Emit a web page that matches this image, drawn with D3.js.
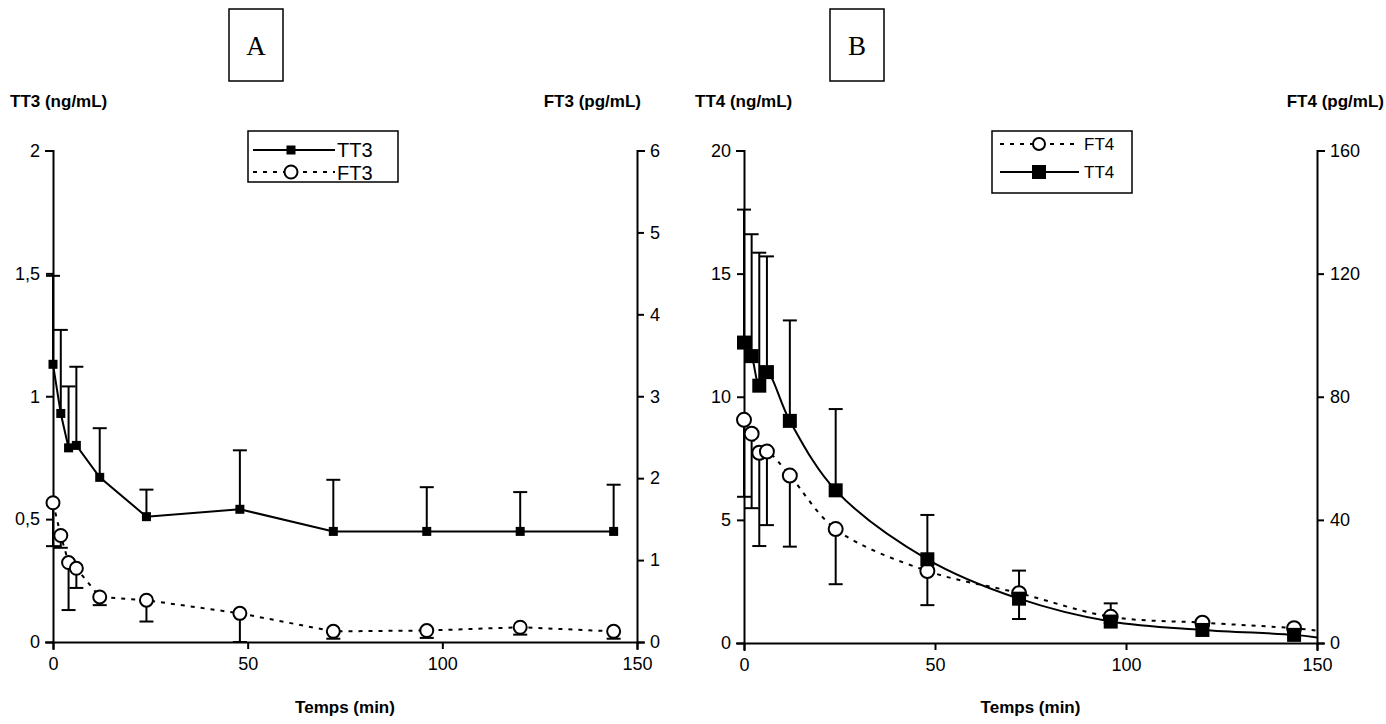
<!DOCTYPE html>
<html><head><meta charset="utf-8">
<script src="https://cdn.jsdelivr.net/npm/d3@7"></script>
<style>body{margin:0;background:#fff}</style></head>
<body><svg id="c" width="1386" height="724"></svg>
<script>
// ---- data ----
const times = [0, 2, 4, 6, 12, 24, 48, 72, 96, 120, 144];
const tt3 = [1.13, 0.93, 0.79, 0.80, 0.67, 0.51, 0.54, 0.45, 0.45, 0.45, 0.45];
const tt3Upper = [1.49, 1.27, 1.04, 1.12, 0.87, 0.62, 0.78, 0.66, 0.63, 0.61, 0.64];
const ft3 = [1.70, 1.30, 0.97, 0.90, 0.55, 0.51, 0.35, 0.13, 0.14, 0.18, 0.13];
const ft3Lower = [1.17, 1.15, 0.39, 0.66, 0.45, 0.25, 0.0, 0.04, 0.05, 0.09, 0.04];
const tt4 = [12.2, 11.65, 10.45, 11.0, 9.02, 6.2, 3.4, 1.8, 0.87, 0.53, 0.33];
const tt4Upper = [17.6, 16.6, 15.85, 15.7, 13.1, 9.5, 5.2, 2.94, 1.61, 0.7, 0.45];
const ft4 = [72.5, 68, 61.8, 62.2, 54.4, 37, 23.4, 16.2, 8.5, 6.6, 4.8];
const ft4Lower = [47.5, 43.8, 31.5, 38.3, 31.3, 19.1, 12.3, 7.8, 6.5, 5.5, 4.0];
const trendEndTime = 150;
const tt4End = 0.22;
const ft4End = 4.0;
const xTicks = [0, 50, 100, 150];
const tt3Ticks = [0, 0.5, 1, 1.5, 2];
const ft3Ticks = [0, 1, 2, 3, 4, 5, 6];
const tt4Ticks = [0, 5, 10, 15, 20];
const ft4Ticks = [0, 40, 80, 120, 160];

const svg = d3.select("#c");
const loc = d3.formatLocale({decimal: ",", thousands: " ", grouping: [3], currency: ["", ""]});
const fmt = v => loc.format("")(v);
const SANS = "Liberation Sans, Arial, sans-serif";

function panel(o) {
  const x = d3.scaleLinear().domain([0, 150]).range([o.x0, o.x1]);
  const yL = d3.scaleLinear().domain(o.lDomain).range([o.yb, o.yt]);
  const yR = d3.scaleLinear().domain(o.rDomain).range([o.yb, o.yt]);
  const g = svg.append("g");

  const styleAxis = (sel) => {
    sel.selectAll("path,line").attr("stroke", "#000").attr("stroke-width", 2);
    sel.selectAll("text").attr("fill", "#000").style("font-family", SANS).style("font-size", "18px");
    sel.select(".domain").attr("stroke-linecap", "square");
  };
  g.append("g").attr("transform", `translate(0,${o.yb})`)
    .call(d3.axisBottom(x).tickValues(xTicks).tickSizeOuter(0).tickSize(7).tickPadding(8).tickFormat(fmt))
    .call(styleAxis);
  g.append("g").attr("transform", `translate(${o.x0},0)`)
    .call(d3.axisLeft(yL).tickValues(o.lTicks).tickSizeOuter(0).tickSize(7).tickPadding(6).tickFormat(fmt))
    .call(styleAxis);
  g.append("g").attr("transform", `translate(${o.x1},0)`)
    .call(d3.axisRight(yR).tickValues(o.rTicks).tickSizeOuter(0).tickSize(7).tickPadding(6).tickFormat(fmt))
    .call(styleAxis);

  const t = (txt, px, py, anchor) => {
    g.append("text").attr("x", px).attr("y", py).attr("text-anchor", anchor).text(txt)
      .style("font-family", SANS).style("font-size", "17px").style("font-weight", "bold");
  };
  t(o.lTitle, o.lTitleX, 107, "start");
  t(o.rTitle, o.rTitleX, 107, "end");
  t("Temps (min)", (o.x0 + o.x1) / 2, 713, "middle");

  // letter box
  g.append("rect").attr("x", o.boxX).attr("y", 9).attr("width", 54).attr("height", 72)
    .attr("fill", "none").attr("stroke", "#000").attr("stroke-width", 1.5);
  g.append("text").attr("x", o.boxX + 27).attr("y", 55).attr("text-anchor", "middle")
    .style("font-family", "Liberation Serif, Times New Roman, serif").style("font-size", "27px").text(o.letter);

  return {g, x, yL, yR};
}

function errBars(g, x, y, vals, ends, cap) {
  const gg = g.append("g").attr("stroke", "#000").attr("stroke-width", 2);
  times.forEach((tm, i) => {
    gg.append("line").attr("x1", x(tm)).attr("x2", x(tm)).attr("y1", y(vals[i])).attr("y2", y(ends[i]));
    gg.append("line").attr("x1", x(tm) - cap).attr("x2", x(tm) + cap).attr("y1", y(ends[i])).attr("y2", y(ends[i]));
  });
}

// ---- Panel A ----
const A = panel({x0: 53, x1: 637, yt: 150.5, yb: 642, lDomain: [0, 2], rDomain: [0, 6],
  lTicks: tt3Ticks, rTicks: ft3Ticks, lTitle: "TT3 (ng/mL)", rTitle: "FT3 (pg/mL)",
  lTitleX: 10, rTitleX: 641, boxX: 229, letter: "A"});
errBars(A.g, A.x, A.yL, tt3, tt3Upper, 7);
errBars(A.g, A.x, A.yR, ft3, ft3Lower, 7);
const lineA1 = d3.line().x((d, i) => A.x(times[i])).y(d => A.yL(d));
const lineA2 = d3.line().x((d, i) => A.x(times[i])).y(d => A.yR(d));
A.g.append("path").attr("d", lineA1(tt3)).attr("fill", "none").attr("stroke", "#000").attr("stroke-width", 2);
A.g.append("path").attr("d", lineA2(ft3)).attr("fill", "none").attr("stroke", "#000").attr("stroke-width", 2).attr("stroke-dasharray", "4,6");
A.g.selectAll(".sqA").data(tt3).join("rect").attr("x", (d, i) => A.x(times[i]) - 4.5).attr("y", d => A.yL(d) - 4.5)
  .attr("width", 9).attr("height", 9).attr("fill", "#000");
A.g.selectAll(".ciA").data(ft3).join("circle").attr("cx", (d, i) => A.x(times[i])).attr("cy", d => A.yR(d))
  .attr("r", 6.5).attr("fill", "#fff").attr("stroke", "#000").attr("stroke-width", 2);
// legend A
{
  const lg = A.g.append("g");
  lg.append("rect").attr("x", 248).attr("y", 131).attr("width", 150).attr("height", 51).attr("fill", "#fff").attr("stroke", "#000").attr("stroke-width", 1.5);
  lg.append("line").attr("x1", 253).attr("x2", 335).attr("y1", 150).attr("y2", 150).attr("stroke", "#000").attr("stroke-width", 2);
  lg.append("rect").attr("x", 291 - 4.5).attr("y", 150 - 4.5).attr("width", 9).attr("height", 9).attr("fill", "#000");
  lg.append("text").attr("x", 337).attr("y", 150).attr("dy", "0.35em").style("font-family", SANS).style("font-size", "20px").text("TT3");
  lg.append("line").attr("x1", 253).attr("x2", 335).attr("y1", 172).attr("y2", 172).attr("stroke", "#000").attr("stroke-width", 2).attr("stroke-dasharray", "4,6");
  lg.append("circle").attr("cx", 291).attr("cy", 172).attr("r", 6.5).attr("fill", "#fff").attr("stroke", "#000").attr("stroke-width", 2);
  lg.append("text").attr("x", 337).attr("y", 172.5).attr("dy", "0.35em").style("font-family", SANS).style("font-size", "20px").text("FT3");
}

// ---- Panel B ----
const B = panel({x0: 744, x1: 1317, yt: 150.5, yb: 643, lDomain: [0, 20], rDomain: [0, 160],
  lTicks: tt4Ticks, rTicks: ft4Ticks, lTitle: "TT4 (ng/mL)", rTitle: "FT4 (pg/mL)",
  lTitleX: 695, rTitleX: 1384, boxX: 830, letter: "B"});
errBars(B.g, B.x, B.yL, tt4, tt4Upper, 7);
errBars(B.g, B.x, B.yR, ft4, ft4Lower, 7);
const tB = times.concat([trendEndTime]);
const lineB1 = d3.line().curve(d3.curveCatmullRom).x((d, i) => B.x(tB[i])).y(d => B.yL(d));
const lineB2 = d3.line().curve(d3.curveCatmullRom).x((d, i) => B.x(tB[i])).y(d => B.yR(d));
B.g.append("path").attr("d", lineB2(ft4.concat([ft4End]))).attr("fill", "none").attr("stroke", "#000").attr("stroke-width", 2).attr("stroke-dasharray", "4,6");
B.g.append("path").attr("d", lineB1(tt4.concat([tt4End]))).attr("fill", "none").attr("stroke", "#000").attr("stroke-width", 2);
B.g.selectAll(".ciB").data(ft4).join("circle").attr("cx", (d, i) => B.x(times[i])).attr("cy", d => B.yR(d))
  .attr("r", 7).attr("fill", "#fff").attr("stroke", "#000").attr("stroke-width", 2);
B.g.selectAll(".sqB").data(tt4).join("rect").attr("x", (d, i) => B.x(times[i]) - 7).attr("y", d => B.yL(d) - 7)
  .attr("width", 14).attr("height", 14).attr("fill", "#000");
// legend B
{
  const lg = B.g.append("g");
  lg.append("rect").attr("x", 992).attr("y", 131).attr("width", 140).attr("height", 62).attr("fill", "#fff").attr("stroke", "#000").attr("stroke-width", 1.5);
  lg.append("line").attr("x1", 1000).attr("x2", 1079).attr("y1", 144).attr("y2", 144).attr("stroke", "#000").attr("stroke-width", 2).attr("stroke-dasharray", "4,6");
  lg.append("circle").attr("cx", 1039).attr("cy", 144).attr("r", 6).attr("fill", "#fff").attr("stroke", "#000").attr("stroke-width", 2);
  lg.append("text").attr("x", 1084).attr("y", 144).attr("dy", "0.35em").style("font-family", SANS).style("font-size", "17px").text("FT4");
  lg.append("line").attr("x1", 1000).attr("x2", 1079).attr("y1", 172).attr("y2", 172).attr("stroke", "#000").attr("stroke-width", 2);
  lg.append("rect").attr("x", 1039 - 7).attr("y", 172 - 7).attr("width", 14).attr("height", 14).attr("fill", "#000");
  lg.append("text").attr("x", 1084).attr("y", 172).attr("dy", "0.35em").style("font-family", SANS).style("font-size", "17px").text("TT4");
}
</script>
</body></html>
